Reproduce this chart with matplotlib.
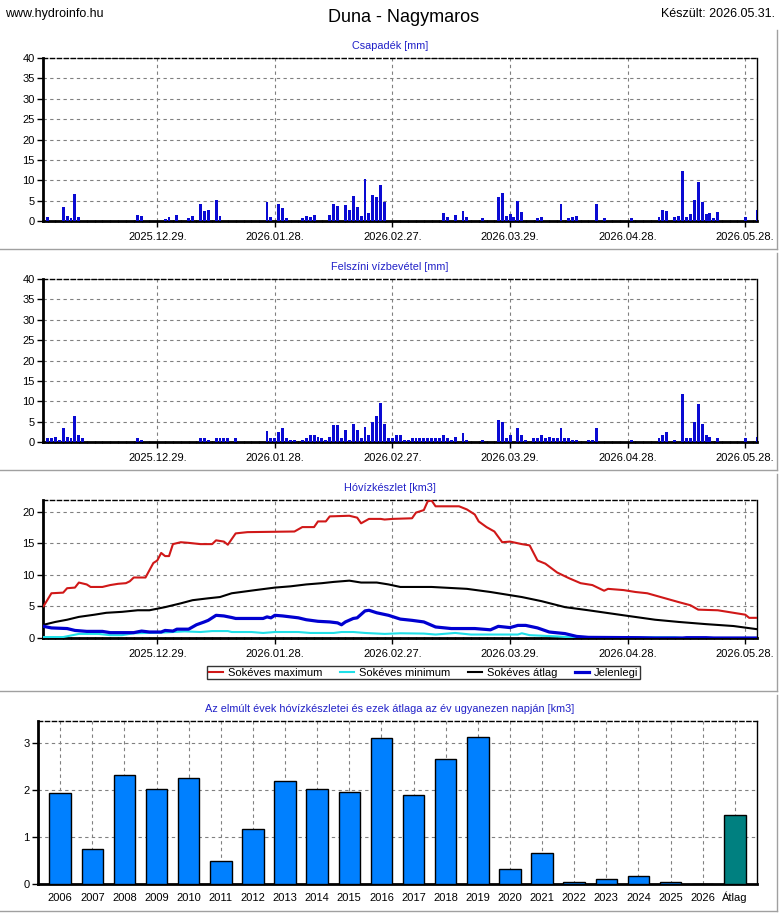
import numpy as np
import matplotlib
matplotlib.use('Agg')
import matplotlib.pyplot as plt
import matplotlib.dates as mdates
from matplotlib.lines import Line2D
from matplotlib.ticker import FixedLocator

plt.rcParams['font.family'] = ['Liberation Sans', 'DejaVu Sans']

W, H = 780, 913
kezdo = np.datetime64('2025-12-01')

# csapadek [mm] (nap sorszama 2025.12.01-tol, ertek)
csap_nap = [0, 4, 5, 6, 7, 8, 23, 24, 30, 31, 33, 36, 37, 39, 40, 41, 43, 44, 56, 57,
            59, 60, 61, 65, 66, 67, 68, 72, 73, 74, 76, 77, 78, 79, 80, 81, 82, 83, 84, 85,
            86, 101, 102, 104, 106, 107, 111, 115, 116, 117, 118, 119, 120, 121, 125, 126,
            131, 133, 134, 135, 140, 142, 149, 156, 157, 158, 160, 161, 162, 163, 164, 165,
            166, 167, 168, 169, 170, 171, 178, 181]
csap_mm = [1.1, 3.4, 1.3, 0.7, 6.6, 0.9, 1.4, 1.2, 0.6, 0.9, 1.4, 0.7, 1.2, 4.1, 2.4, 2.6, 5.1, 1.2, 4.7, 0.9,
           4.1, 3.1, 0.7, 0.7, 1.2, 0.9, 1.4, 1.4, 4.1, 3.6, 3.9, 2.6, 6.1, 3.4, 1.2, 10.3, 1.9, 6.4, 5.9, 8.8,
           4.6, 1.9, 0.9, 1.4, 2.4, 0.9, 0.7, 5.9, 6.9, 1.2, 1.7, 0.9, 4.9, 2.1, 0.7, 0.9,
           4.1, 0.7, 0.9, 1.2, 4.1, 0.7, 0.7, 0.9, 2.6, 2.4, 0.9, 1.2, 12.3, 0.9, 1.7, 5.1,
           9.6, 4.6, 1.7, 1.9, 0.7, 2.1, 0.9, 2.6]

# felszini vizbevetel [mm]
viz_nap = [0, 1, 2, 3, 4, 5, 6, 7, 8, 9, 23, 24, 39, 40, 41, 43, 44, 45, 46, 48,
           56, 57, 58, 59, 60, 61, 62, 63, 65, 66, 67, 68, 69, 70, 71, 72, 73, 74, 75, 76,
           77, 78, 79, 80, 81, 82, 83, 84, 85, 86, 87, 88, 89, 90, 91, 92, 93, 94, 95, 96,
           97, 98, 99, 100, 101, 102, 103, 104, 106, 107, 111, 115, 116, 117, 118, 120, 121, 122, 124, 125,
           126, 127, 128, 129, 130, 131, 132, 133, 134, 135, 138, 139, 140, 149, 156, 157, 158, 160, 162, 163,
           164, 165, 166, 167, 168, 169, 171, 178, 181]
viz_mm = [1.1, 0.9, 1.3, 0.6, 3.4, 1.3, 0.9, 6.3, 1.6, 0.9, 1.1, 0.6, 0.9, 0.9, 0.6, 1.1, 0.9, 0.9, 0.9, 0.9,
          2.6, 0.9, 0.9, 2.4, 3.4, 0.9, 0.6, 0.4, 0.6, 1.1, 1.8, 1.6, 1.3, 0.9, 0.4, 1.3, 4.1, 4.1, 1.1, 2.9,
          0.6, 4.5, 2.9, 1.1, 3.8, 1.8, 5.0, 6.5, 9.5, 4.5, 1.1, 1.1, 1.6, 1.6, 0.6, 0.6, 0.9, 0.9, 0.9, 1.1,
          1.1, 1.1, 0.9, 0.9, 1.8, 0.9, 0.6, 1.3, 2.1, 0.6, 0.6, 5.3, 5.0, 0.9, 1.6, 3.4, 1.6, 0.6, 0.9, 0.9,
          1.6, 0.9, 1.3, 1.1, 0.9, 3.4, 0.9, 0.9, 0.6, 0.6, 0.6, 0.6, 3.4, 0.6, 0.9, 1.8, 2.4, 0.6, 11.9, 0.9,
          0.9, 4.8, 9.3, 4.3, 1.6, 1.3, 1.1, 0.9, 1.3]

# hovizkeszlet [km3]
max_nap = [-1, 1, 4, 5, 7, 8, 10, 11, 14, 16, 18, 20, 21, 22, 25, 27, 28, 29, 30, 31,
           32, 34, 36, 39, 42, 43, 45, 46, 48, 51, 63, 65, 68, 69, 71, 72, 77, 79, 80, 82,
           85, 86, 88, 93, 94, 96, 97, 98, 99, 105, 107, 109, 110, 112, 114, 116, 118, 121, 123, 125,
           127, 130, 133, 136, 139, 142, 143, 147, 150, 153, 157, 161, 164, 166, 171, 176, 178, 179, 181]
max_km3 = [5.05, 7.1, 7.2, 7.9, 8.0, 8.8, 8.5, 8.1, 8.1, 8.4, 8.6, 8.7, 9.0, 9.6, 9.6, 11.9, 12.3, 13.5, 13.0, 13.0,
           14.9, 15.2, 15.1, 14.9, 14.9, 15.5, 15.3, 14.8, 16.6, 16.8, 16.9, 17.6, 17.6, 18.5, 18.5, 19.3, 19.4, 19.1, 18.2, 18.9,
           18.9, 18.8, 18.9, 19.0, 19.9, 20.3, 21.7, 21.8, 20.9, 20.9, 20.4, 19.6, 18.5, 17.6, 16.9, 15.2, 15.3, 14.9, 14.7, 12.3,
           11.8, 10.4, 9.5, 8.7, 8.4, 7.5, 7.8, 7.6, 7.3, 7.1, 6.4, 5.7, 5.2, 4.5, 4.4, 3.9, 3.7, 3.2, 3.2]

min_nap = [-1, 4, 6, 8, 13, 16, 19, 22, 29, 35, 39, 42, 46, 47, 52, 55, 58, 64, 67, 73,
           75, 78, 81, 86, 90, 96, 99, 104, 108, 120, 121, 123, 130, 135, 143, 155, 160, 162, 181]
min_km3 = [0.15, 0.15, 0.4, 0.65, 0.65, 0.45, 0.45, 0.75, 0.85, 1.05, 0.95, 1.1, 1.1, 0.95, 0.95, 0.8, 0.95, 0.95, 0.8, 0.8,
           0.95, 0.95, 0.8, 0.65, 0.75, 0.7, 0.55, 0.8, 0.55, 0.55, 0.75, 0.45, 0.25, 0.05, 0.0, 0.1, 0.1, 0.0, 0.0]

atl_nap = [-1, 2, 5, 8, 12, 15, 19, 23, 26, 30, 34, 37, 41, 44, 47, 53, 58, 62, 66, 70,
           73, 77, 80, 84, 87, 90, 98, 107, 113, 118, 121, 126, 132, 138, 147, 155, 161, 168, 175, 181]
atl_km3 = [2.1, 2.55, 2.9, 3.35, 3.7, 4.0, 4.15, 4.4, 4.4, 4.9, 5.5, 6.0, 6.3, 6.5, 7.1, 7.6, 8.0, 8.2, 8.5, 8.7,
           8.9, 9.1, 8.8, 8.8, 8.5, 8.1, 8.1, 7.8, 7.3, 6.8, 6.5, 5.85, 4.9, 4.4, 3.6, 2.9, 2.55, 2.2, 1.9, 1.4]

jel_nap = [-1, 1, 5, 7, 10, 14, 16, 22, 24, 26, 29, 30, 32, 33, 36, 37, 38, 40, 41, 43,
           45, 47, 48, 55, 56, 57, 58, 60, 64, 66, 69, 72, 74, 75, 76, 78, 79, 81, 82, 84,
           87, 90, 93, 96, 99, 103, 109, 113, 115, 118, 120, 122, 125, 128, 132, 135, 138, 151, 155, 162,
           163, 168, 170, 181]
jel_km3 = [1.85, 1.6, 1.5, 1.2, 1.05, 1.05, 0.85, 0.85, 1.1, 0.95, 0.95, 1.2, 1.1, 1.4, 1.4, 1.75, 2.1, 2.55, 2.8, 3.6,
           3.5, 3.25, 3.1, 3.1, 3.35, 3.2, 3.6, 3.5, 3.2, 2.9, 2.65, 2.55, 2.4, 2.1, 2.55, 3.1, 3.2, 4.3, 4.4, 4.0,
           3.6, 3.0, 2.8, 2.55, 1.75, 1.5, 1.5, 1.3, 1.85, 1.65, 2.0, 2.0, 1.6, 0.95, 0.7, 0.25, 0.1, 0.05, 0.0, 0.0,
           0.05, 0.05, 0.0, 0.0]

jelmagyarazat = ['Sokéves maximum', 'Sokéves minimum', 'Sokéves átlag', 'Jelenlegi']

# korabbi evek hovizkeszlete az ev ugyanezen napjan [km3]
evek = ['2006', '2007', '2008', '2009', '2010', '2011', '2012', '2013', '2014', '2015', '2016',
        '2017', '2018', '2019', '2020', '2021', '2022', '2023', '2024', '2025', '2026', 'Átlag']
evek_km3 = [1.93, 0.75, 2.33, 2.03, 2.25, 0.48, 1.18, 2.2, 2.03, 1.95, 3.1,
            1.9, 2.66, 3.14, 0.31, 0.65, 0.05, 0.11, 0.18, 0.05, 0.0, 1.46]

datum_tickek = ['2025-12-29', '2026-01-28', '2026-02-27', '2026-03-29', '2026-04-28', '2026-05-28']


def napok(lista):
    return kezdo + np.array(lista).astype('timedelta64[D]')


def fx(px):
    return px / W


def fy(py):
    return 1 - py / H


def keret(ax):
    ax.set_axisbelow(True)
    ax.spines['left'].set_linewidth(2)
    ax.spines['bottom'].set_linewidth(2)
    ax.spines['top'].set_linewidth(1)
    ax.spines['top'].set_linestyle((0, (3, 2)))
    ax.spines['right'].set_linewidth(1)
    ax.grid(True, ls=(0, (3, 3)), color='#808080', lw=0.8)
    ax.tick_params(labelsize=8, length=4, width=1, pad=2)


def datum_tengely(ax):
    ax.set_xlim(mdates.date2num(kezdo) - 1.15, mdates.date2num(kezdo) + 181.0)
    ax.set_xticks(mdates.date2num(np.array(datum_tickek, dtype='datetime64[D]')))
    ax.xaxis.set_major_formatter(mdates.DateFormatter('%Y.%m.%d.'))
    ax.xaxis.set_minor_locator(FixedLocator(mdates.date2num(napok(range(0, 182, 2)))))
    ax.tick_params(axis='x', which='minor', length=2, direction='inout', width=1)
    ax.tick_params(axis='x', which='major', pad=4)


fig = plt.figure(figsize=(W / 100, H / 100), dpi=100)

fig.text(fx(5), fy(14), 'www.hydroinfo.hu', fontsize=9, va='center', ha='left')
fig.text(fx(404), fy(18), 'Duna - Nagymaros', fontsize=13, va='center', ha='center')
fig.text(fx(775), fy(14), 'Készült: 2026.05.31.', fontsize=9, va='center', ha='right')

# panel keretek
for felso, also in [(30, 249), (253, 470), (474, 691), (695, 911)]:
    fig.add_artist(Line2D([0, fx(777)], [fy(also), fy(also)], transform=fig.transFigure,
                          color='#a0a0a0', lw=1))
    fig.add_artist(Line2D([fx(777), fx(777)], [fy(felso), fy(also)], transform=fig.transFigure,
                          color='#a0a0a0', lw=1))

cim_szin = '#2020c8'
bar_szin = '#0a0ad2'

# 1. csapadek
ax1 = fig.add_axes([fx(43), fy(221), fx(714), 163 / H])
keret(ax1)
ax1.bar(napok(csap_nap), csap_mm, width=0.75, color=bar_szin, zorder=3)
ax1.set_ylim(0, 40)
ax1.set_yticks(range(0, 41, 5))
datum_tengely(ax1)
fig.text(fx(390), fy(46), 'Csapadék [mm]', color=cim_szin, fontsize=7.8, ha='center', va='center')

# 2. felszini vizbevetel
ax2 = fig.add_axes([fx(43), fy(442), fx(714), 163 / H])
keret(ax2)
ax2.bar(napok(viz_nap), viz_mm, width=0.75, color=bar_szin, zorder=3)
ax2.set_ylim(0, 40)
ax2.set_yticks(range(0, 41, 5))
datum_tengely(ax2)
fig.text(fx(390), fy(267), 'Felszíni vízbevétel [mm]', color=cim_szin, fontsize=7.8, ha='center', va='center')

# 3. hovizkeszlet
ax3 = fig.add_axes([fx(43), fy(638), fx(714), 138 / H])
keret(ax3)
l1, = ax3.plot(napok(max_nap), max_km3, color='#d01818', lw=1.5, zorder=3)
l2, = ax3.plot(napok(min_nap), min_km3, color='#20e0e8', lw=1.5, zorder=3)
l3, = ax3.plot(napok(atl_nap), atl_km3, color='black', lw=1.5, zorder=3)
l4, = ax3.plot(napok(jel_nap), jel_km3, color='#0000d0', lw=2.3, zorder=4)
ax3.set_ylim(0, 21.9)
ax3.set_yticks([0, 5, 10, 15, 20])
datum_tengely(ax3)
fig.text(fx(390), fy(488), 'Hóvízkészlet [km3]', color=cim_szin, fontsize=7.8, ha='center', va='center')
leg = fig.legend([l1, l2, l3, l4], jelmagyarazat, loc='center', ncol=4,
                 bbox_to_anchor=(fx(423.5), fy(672.5)), fontsize=8, frameon=True,
                 fancybox=False, edgecolor='black', borderpad=0.15, handlelength=1.3,
                 handletextpad=0.4, columnspacing=1.6)
leg.get_frame().set_linewidth(1)

# 4. korabbi evek
ax4 = fig.add_axes([fx(38), fy(884), fx(719), 163 / H])
keret(ax4)
szinek = ['#0080ff'] * (len(evek) - 1) + ['#008080']
ax4.bar(range(len(evek)), evek_km3, width=0.67, color=szinek, edgecolor='black', lw=1, zorder=3)
ax4.set_xlim(-0.69, len(evek) - 0.31)
ax4.set_ylim(0, 3.47)
ax4.set_yticks([0, 1, 2, 3])
ax4.set_xticks(range(len(evek)))
ax4.set_xticklabels(evek)
ax4.tick_params(axis='x', length=0, pad=12)
for felirat in ax4.get_xticklabels():
    felirat.set_verticalalignment('baseline')
fig.text(fx(390), fy(709), 'Az elmúlt évek hóvízkészletei és ezek átlaga az év ugyanezen napján [km3]',
         color=cim_szin, fontsize=7.8, ha='center', va='center')

fig.savefig('out.png', dpi=100)
